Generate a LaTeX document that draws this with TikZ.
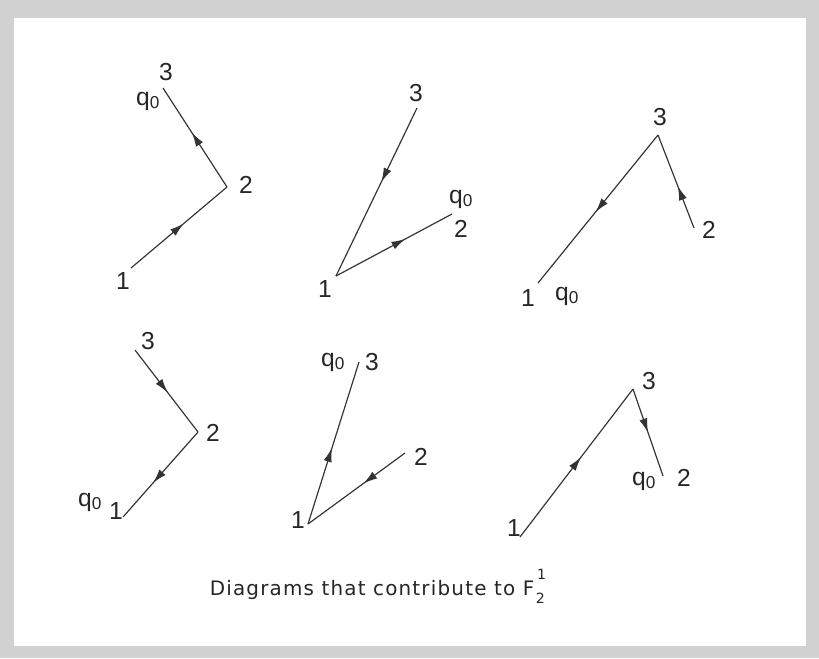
\documentclass[tikz,border=0pt]{standalone}
\usepackage{fontspec}
\setmainfont{Liberation Sans}
\newfontfamily\letterfont[LetterSpace=6]{DejaVu Sans}
\usetikzlibrary{arrows.meta, decorations.markings}
\begin{document}
\begin{tikzpicture}[x=0.03cm, y=-0.03cm,
    leg/.style={draw=black!80, line width=1pt, postaction={decorate},
                decoration={markings, mark=at position #1 with {\arrow{Latex[length=12pt,width=7pt]}}}},
    leg/.default=0.55,
    lbl/.style={font=\fontsize{21}{24}\selectfont, text=black!85, inner sep=0pt},
    captext/.style={font=\letterfont\fontsize{17}{20}\selectfont, text=black!85, inner sep=0pt}
  ]
  \fill[black!18] (0,0) rectangle (819,658);
  \fill[white] (14,18) rectangle (806,646);
  \useasboundingbox (0,0) rectangle (819,658);

  \coordinate (a1) at (131,268);
  \coordinate (a2) at (227,187);
  \coordinate (a3) at (163,88);
  \draw[leg=0.55] (a1) -- (a2);
  \draw[leg=0.55] (a2) -- (a3);
  \node[lbl] (la1) at (123,281) {1};
  \node[lbl] (la2) at (246,185) {2};
  \node[lbl] (la3) at (166,72) {3};
  \node[lbl] (qa) at (148,101) {q\textsubscript{0}};

  \coordinate (b1) at (336,276);
  \coordinate (b2) at (452,214);
  \coordinate (b3) at (417,108);
  \draw[leg=0.44] (b3) -- (b1);
  \draw[leg=0.6] (b1) -- (b2);
  \node[lbl] (lb1) at (325,289) {1};
  \node[lbl] (lb2) at (461,229) {2};
  \node[lbl] (lb3) at (416,93) {3};
  \node[lbl] (qb) at (461,199) {q\textsubscript{0}};

  \coordinate (c1) at (538,283);
  \coordinate (c2) at (694,228);
  \coordinate (c3) at (658,135);
  \draw[leg=0.52] (c3) -- (c1);
  \draw[leg=0.45] (c2) -- (c3);
  \node[lbl] (lc1) at (528,298) {1};
  \node[lbl] (lc2) at (709,230) {2};
  \node[lbl] (lc3) at (660,117) {3};
  \node[lbl] (qc) at (567,296) {q\textsubscript{0}};

  \coordinate (d1) at (123,517);
  \coordinate (d2) at (198,432);
  \coordinate (d3) at (135,350);
  \draw[leg=0.52] (d3) -- (d2);
  \draw[leg=0.6] (d2) -- (d1);
  \node[lbl] (ld1) at (116,511) {1};
  \node[lbl] (ld2) at (213,433) {2};
  \node[lbl] (ld3) at (148,341) {3};
  \node[lbl] (qd) at (90,502) {q\textsubscript{0}};

  \coordinate (e1) at (308,524);
  \coordinate (e2) at (405,453);
  \coordinate (e3) at (359,362);
  \draw[leg=0.47] (e1) -- (e3);
  \draw[leg=0.43] (e2) -- (e1);
  \node[lbl] (le1) at (298,520) {1};
  \node[lbl] (le2) at (421,457) {2};
  \node[lbl] (le3) at (372,362) {3};
  \node[lbl] (qe) at (333,362) {q\textsubscript{0}};

  \coordinate (f1) at (520,537);
  \coordinate (f2) at (663,476);
  \coordinate (f3) at (633,389);
  \draw[leg=0.54] (f1) -- (f3);
  \draw[leg=0.5] (f3) -- (f2);
  \node[lbl] (lf1) at (514,528) {1};
  \node[lbl] (lf2) at (684,478) {2};
  \node[lbl] (lf3) at (649,381) {3};
  \node[lbl] (qf) at (644,481) {q\textsubscript{0}};

  \node[captext] (title) at (372,590) {Diagrams that contribute to F};
  \node[captext, font=\letterfont\fontsize{12}{14}\selectfont, anchor=west] (sub) at ([xshift=1pt, yshift=-7pt]title.east) {2};
  \node[captext, font=\letterfont\fontsize{12}{14}\selectfont, anchor=west] (sup) at ([xshift=2pt, yshift=13pt]title.east) {1};
\end{tikzpicture}
\end{document}
